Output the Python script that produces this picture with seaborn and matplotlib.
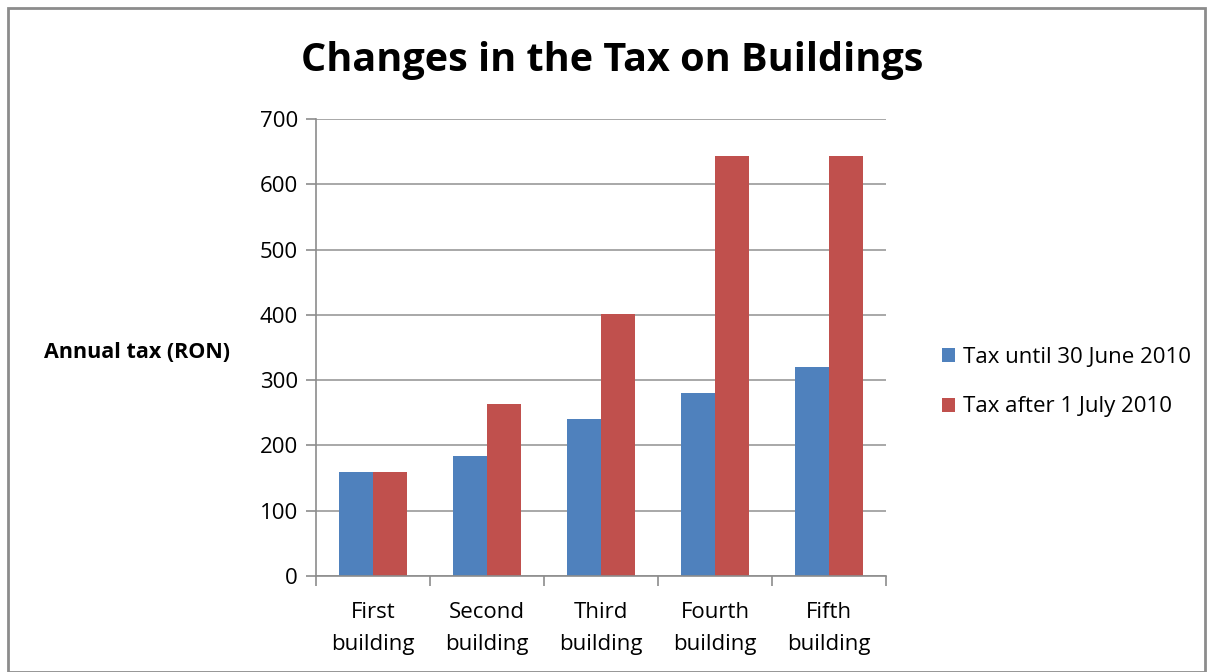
import pandas as pd
import numpy as np
import matplotlib.pyplot as plt
import seaborn as sns
from matplotlib.patches import Rectangle

buildings = ['First\nbuilding', 'Second\nbuilding', 'Third\nbuilding', 'Fourth\nbuilding', 'Fifth\nbuilding']
tax_before = [160, 184, 240, 281, 320]
tax_after = [160, 264, 401, 643, 643]
series = ['Tax until 30 June 2010', 'Tax after 1 July 2010']

df = pd.DataFrame({
    'building': buildings * 2,
    'tax': tax_before + tax_after,
    'period': [series[0]] * 5 + [series[1]] * 5,
})

sns.set_style('white')
plt.rcParams['font.family'] = ['Open Sans', 'DejaVu Sans']
plt.rcParams['text.color'] = 'black'
plt.rcParams['xtick.labelcolor'] = 'black'
plt.rcParams['ytick.labelcolor'] = 'black'

fig = plt.figure(figsize=(12.1, 6.72), dpi=100)
ax = fig.add_axes([316 / 1210, 1 - 576 / 672, 570 / 1210, 457 / 672])

sns.barplot(data=df, x='building', y='tax', hue='period', order=buildings,
            hue_order=series, palette=['#4F81BD', '#C0504D'], width=0.6,
            saturation=1, linewidth=0, ax=ax, legend=True)

ax.set_ylim(0, 700)
ax.set_xlim(-0.5, 4.5)
ax.set_yticks(range(0, 701, 100))
ax.yaxis.grid(True, color='#9a9a9a', linewidth=1.2)
ax.set_axisbelow(True)
for s in ['top', 'right']:
    ax.spines[s].set_visible(False)
for s in ['left', 'bottom']:
    ax.spines[s].set_color('#8c8c8c')
    ax.spines[s].set_linewidth(1.2)

ax.set_xticks(np.arange(-0.5, 5, 1), minor=True)
ax.tick_params(axis='x', which='major', length=0, labelsize=16, pad=19)
ax.tick_params(axis='x', which='minor', length=7, width=1.2, color='#8c8c8c', direction='out', bottom=True)
ax.tick_params(axis='y', length=7, width=1.2, color='#8c8c8c', direction='out', left=True, labelsize=16, pad=6)
for lab in ax.get_xticklabels():
    lab.set_linespacing(1.65)

ax.set_xlabel('')
ax.set_ylabel('')
fig.text(44 / 1210, 1 - 352 / 672, 'Annual tax (RON)', fontsize=15.5, fontweight='bold',
         va='center', ha='left')
fig.text(612 / 1210, 1 - 60 / 672, 'Changes in the Tax on Buildings', fontsize=28.5,
         fontweight='bold', ha='center', va='center')

leg = ax.legend(loc='center left', bbox_to_anchor=(922 / 1210, 1 - 382 / 672),
                bbox_transform=fig.transFigure, frameon=False, fontsize=16,
                handlelength=0.6, handleheight=0.6, handletextpad=0.35, labelspacing=1.3)

fig.patches.append(Rectangle((8 / 1210, 0), 1197 / 1210, 1 - 8 / 672, transform=fig.transFigure,
                             fill=False, edgecolor='#8c8c8c', linewidth=2))

plt.savefig('out.png', dpi=100)
